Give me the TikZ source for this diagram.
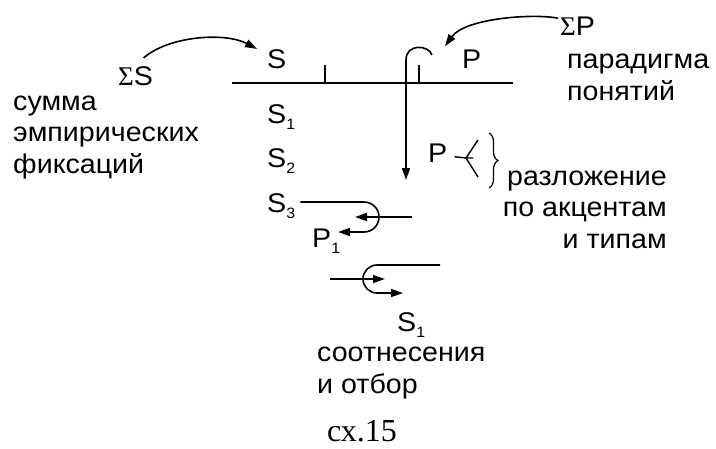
\documentclass[tikz,border=0pt]{standalone}
\usepackage{fontspec}
\setmainfont{Liberation Serif}
\setsansfont[FakeStretch=1.06]{Liberation Sans}
\usetikzlibrary{arrows.meta,decorations.pathreplacing}
\newcommand\lowidx[1]{\raisebox{-6pt}{\fontsize{15}{15}\selectfont #1}}

\begin{document}
\begin{tikzpicture}[x=1pt,y=-1pt,
    lbl/.style={font=\sffamily\fontsize{27}{31.5}\selectfont,inner sep=0pt,anchor=base west},
    arr/.style={line width=1.6pt,-{Triangle[length=12pt,width=8pt]}}]
  \useasboundingbox (0,0) rectangle (716,448);
  \node [lbl] (sumS) at (118,85) {{\rmfamily Σ}S};
  \node [lbl, align=left] (sumtext) at (13,173) {сумма\\эмпирических\\фиксаций};
  \node [lbl] (S) at (267,68) {S};
  \node [lbl] (S1) at (267,123) {S\lowidx{1}};
  \node [lbl] (S2) at (267,167) {S\lowidx{2}};
  \node [lbl] (S3) at (267,212) {S\lowidx{3}};
  \node [lbl] (P) at (462,68) {P};
  \node [lbl] (sumP) at (560,35) {{\rmfamily Σ}P};
  \node [lbl, align=left] (paradigm) at (567,100) {парадигма\\понятий};
  \node [lbl] (P2) at (428,162) {P};
  \node [lbl, anchor=base east, align=right] (split) at (667,248) {разложение\\по акцентам\\и типам};
  \node [lbl] (P1) at (312,247) {P\lowidx{1}};
  \node [lbl] (S1b) at (397,331) {S\lowidx{1}};
  \node [lbl, align=left] (relate) at (317,393) {соотнесения\\и отбор};
  \node [font=\fontsize{32}{32}\selectfont, inner sep=0pt, anchor=base west] (caption) at (327,441) {сх.15};

  \coordinate (hook) at (432,55);
  \coordinate (bend) at (406,60);
  \coordinate (down) at (406,180);
  \coordinate (fork) at (466,158);
  \coordinate (turnA) at (364,202);
  \coordinate (inA) at (412,217);
  \coordinate (turnB) at (377,265);
  \coordinate (inB) at (330,279);

  \draw [line width=1.6pt] (232,83) -- (513,83);
  \draw [line width=1.4pt] (325,65) -- (325,83) (419,65) -- (419,83);
  \draw [arr] ([xshift=8pt,yshift=8pt]sumS.north) .. controls +(25,-22) and +(-32,-17) .. ([xshift=-10pt]S.north west);
  \draw [arr] ([xshift=-2pt,yshift=-2pt]sumP.north west) .. controls +(-25,-5) and +(20,-28) .. ([xshift=-17pt,yshift=3pt]P.north west);
  \draw [arr] (hook) .. controls +(-3,-10) and +(0,-17) .. (bend) -- (down);
  \draw [line width=1.4pt] ([xshift=7pt,yshift=-4pt]P2.east) -- (fork) -- +(7,0) (fork) -- +(12,-18) (fork) -- +(12,19);
  \draw [line width=1.2pt, decorate, decoration={brace,amplitude=9pt}] (489,133) -- (489,188);
  \draw [arr] ([xshift=5pt,yshift=10pt]S3.base east) -- (turnA) arc (-90:90:15) -- +(-26,0);
  \draw [arr] (inA) -- +(-57,0);
  \draw [arr] (440,265) -- (turnB) arc (-90:-270:14) -- +(26,0);
  \draw [arr] (inB) -- +(55,0);
\end{tikzpicture}
\end{document}
